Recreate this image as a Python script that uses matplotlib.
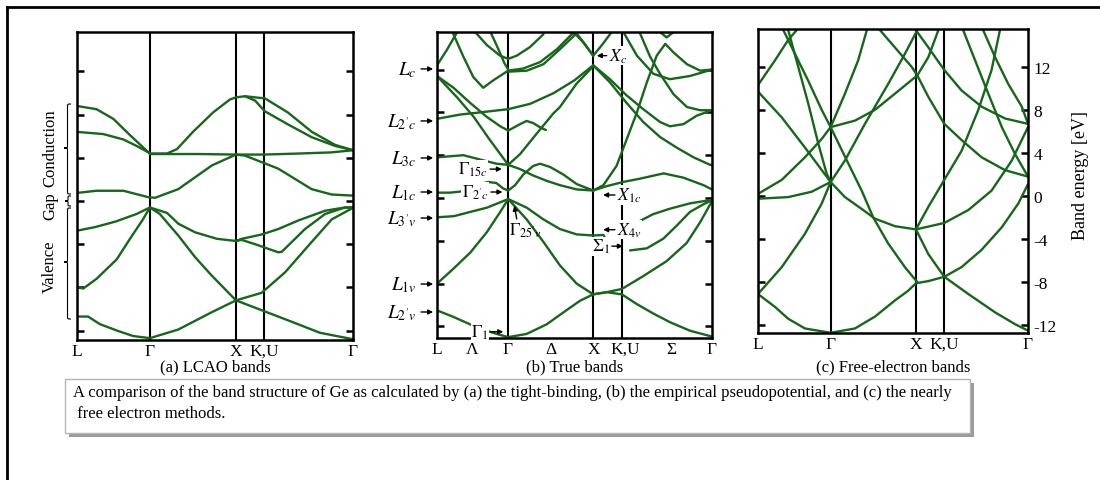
import matplotlib.pyplot as plt
from matplotlib.lines import Line2D
from matplotlib.patches import Rectangle, PathPatch
from matplotlib.path import Path

plt.rcParams['font.family'] = ['Liberation Serif', 'DejaVu Serif']
plt.rcParams['mathtext.fontset'] = 'stix'

W, H = 1100, 481
GREEN = '#17671b'

# energy axis (eV)
energy_ticks = [-12, -8, -4, 0, 4, 8, 12]
energy_labels = ['-12', '-8', '-4', '0', '4', '8', '12']

# k-path: positions of the symmetry points as a fraction of each panel's path
path_labels = ['L', 'Γ', 'X', 'K,U', 'Γ']
lcao_sym = [0, 0.264, 0.576, 0.678, 1]
true_sym = [0, 0.258, 0.567, 0.673, 1]
free_sym = [0, 0.270, 0.585, 0.689, 1]
true_labels = ['L', 'Λ', 'Γ', 'Δ', 'X', 'K,U', 'Σ', 'Γ']
true_label_pos = [0, 0.127, 0.258, 0.415, 0.572, 0.685, 0.853, 1]

# (a) LCAO bands: (k, E)
lcao_bands = [
    ([0, .040, .083, .145, .203, .264, .367, .488, .576, .678, .790, .880, 1],
     [-10.7, -10.7, -11.4, -12.0, -12.5, -12.7, -11.9, -10.3, -9.2, -10.2, -11.3, -12.2, -12.8]),
    ([0, .023, .071, .144, .192, .239, .264, .300, .367, .428, .488, .576, .669, .754, .850, .923, .995, 1],
     [-8.0, -8.1, -7.2, -5.4, -3.5, -1.7, -0.6, -1.2, -3.2, -5.2, -6.9, -9.2, -8.5, -6.6, -3.8, -1.7, -0.7, -0.6]),
    ([0, .068, .140, .216, .264, .326, .367, .428, .507, .576, .597, .669, .729, .802, .899, .971, 1],
     [-2.75, -2.4, -1.9, -1.2, -0.6, -1.1, -2.1, -2.9, -3.5, -3.7, -3.5, -3.1, -2.6, -1.8, -0.9, -0.6, -0.6]),
    ([.576, .597, .657, .729, .742, .778, .826, .899, .971, 1],
     [-3.7, -3.6, -4.1, -4.75, -4.7, -3.8, -2.6, -1.2, -0.6, -0.6]),
    ([0, .071, .168, .259, .283, .367, .489, .576, .609, .729, .850, .923, 1],
     [0.75, 0.95, 0.95, 0.35, 0.3, 1.1, 3.3, 4.3, 4.2, 3.0, 1.1, 0.6, 0.5]),
    ([.264, .446, .576, .678, .808, .920, 1],
     [4.35, 4.35, 4.3, 4.3, 4.4, 4.5, 4.7]),
    ([0, .071, .132, .192, .259, .264],
     [8.8, 8.5, 7.6, 6.1, 4.5, 4.4]),
    ([0, .095, .168, .216, .259, .264],
     [6.4, 6.2, 5.7, 5.1, 4.5, 4.4]),
    ([.264, .326, .362, .420, .493, .554, .576, .609, .645, .681, .764, .851, .935, 1],
     [4.4, 4.4, 4.8, 6.4, 8.2, 9.4, 9.6, 9.7, 9.6, 9.5, 8.2, 6.4, 5.2, 4.7]),
    ([.609, .645, .681, .764, .851, .935, 1],
     [9.7, 9.3, 8.3, 7.1, 5.9, 5.1, 4.7]),
]

# (b) true (pseudopotential) bands
true_bands = [
    ([0, .059, .120, .181, .217, .259, .326, .399, .459, .520, .568, .617, .672, .726, .787, .847, .920, .993, 1],
     [-10.5, -11.1, -11.8, -12.4, -12.7, -13.0, -12.7, -11.8, -10.7, -9.6, -9.0, -8.8, -9.0, -9.9, -10.8, -11.6, -12.4, -12.9, -13.0]),
    ([0, .060, .121, .181, .230, .259, .326, .387, .447, .508, .568, .617, .672, .750, .835, .908, .956, 1],
     [-8.0, -6.6, -5.1, -3.2, -1.3, -0.1, -2.0, -4.1, -6.3, -8.0, -9.0, -8.8, -8.5, -7.3, -5.9, -4.2, -2.3, -0.3]),
    ([0, .061, .121, .182, .230, .259, .326, .387, .447, .508, .568, .605, .610],
     [-1.8, -1.7, -1.3, -0.9, -0.4, -0.1, -0.9, -2.0, -2.9, -3.4, -3.5, -3.45, -3.7]),
    ([.726, .787, .847, .920, .993, 1],
     [-2.3, -1.5, -1.0, -0.5, -0.2, -0.2]),
    ([.702, .763, .823, .871, .920, .968, 1],
     [-4.9, -4.7, -3.8, -2.6, -1.3, -0.6, -0.2]),
    ([0, .048, .084, .120, .157, .186, .216, .240, .259, .284, .314, .350, .375, .411, .459, .508, .568],
     [0.5, 0.5, 0.6, 0.8, 1.3, 1.5, 1.4, 0.9, 0.7, 1.2, 2.2, 3.0, 3.2, 2.9, 2.2, 1.3, 0.7]),
    ([.259, .302, .350, .399, .447, .508, .568],
     [3.1, 2.7, 2.1, 1.6, 1.2, 0.8, 0.7]),
    ([.568, .616, .677, .737, .824, .896, .969, 1],
     [0.7, 1.1, 1.5, 1.8, 2.3, 1.9, 1.2, 0.8]),
    ([0, .096, .156, .217, .259],
     [3.8, 4.0, 3.6, 3.2, 3.1]),
    ([0, .035, .078],
     [12.4, 13.8, 15.7]),
    ([0, .073, .133, .193, .259],
     [11.4, 9.4, 7.6, 5.4, 3.1]),
    ([0, .060, .120, .180, .230, .259],
     [11.4, 10.3, 8.9, 7.6, 6.7, 6.3]),
    ([0, .085, .157, .259, .339, .424, .500, .568],
     [7.4, 7.8, 8.0, 8.3, 8.8, 9.8, 11.0, 12.4]),
    ([.259, .302, .362, .423, .447, .508, .568],
     [3.1, 4.1, 6.0, 7.9, 8.5, 10.7, 12.3]),
    ([.259, .302, .326, .350, .375, .396],
     [6.3, 6.9, 7.2, 7.0, 6.6, 6.35]),
    ([.132, .181, .229, .259, .290, .338, .387],
     [15.7, 14.3, 13.3, 13.0, 13.3, 14.1, 15.3]),
    ([.053, .096, .132, .168, .205, .259],
     [15.7, 13.2, 11.3, 10.3, 11.0, 11.9]),
    ([.193, .225, .245, .259],
     [15.6, 13.8, 12.6, 12.0]),
    ([.259, .314, .375, .436, .490, .500, .530, .568],
     [11.9, 12.1, 12.7, 13.9, 15.3, 15.4, 14.6, 13.3]),
    ([.259, .327, .387, .447, .500, .510, .540, .568],
     [11.8, 11.9, 12.5, 13.9, 15.2, 15.3, 14.3, 13.3]),
    ([.568, .629, .689, .750, .811, .872, .933, .993, 1],
     [12.4, 10.8, 8.9, 7.1, 5.7, 4.7, 3.8, 3.1, 3.1]),
    ([.568, .629, .689, .750, .811, .847, .896, .945, 1],
     [12.4, 11.1, 9.6, 8.3, 7.1, 6.7, 6.9, 7.7, 8.2]),
    ([.568, .605, .653, .690, .727, .763, .799, .830, .860, .909, .957, 1],
     [0.7, 1.2, 3.0, 5.5, 8.0, 10.8, 13.3, 14.4, 13.6, 12.5, 11.9, 12.0]),
    ([.678, .727, .787, .847, .920, 1],
     [15.5, 13.3, 11.6, 11.1, 11.4, 12.0]),
    ([.738, .775, .811, .860, .909, .957, 1],
     [15.4, 13.2, 11.6, 9.7, 8.5, 8.2, 8.2]),
    ([.811, .835, .860],
     [15.5, 15.0, 15.5]),
    ([.568, .600, .635],
     [13.3, 14.3, 15.5]),
]

# (c) free-electron bands
free_bands = [
    ([0, .063, .112, .174, .269, .359, .433, .507, .556, .585, .631, .690, .754, .828, .903, .964, 1],
     [-9.1, -10.3, -11.4, -12.3, -12.7, -12.3, -11.2, -9.7, -8.8, -8.1, -7.9, -7.5, -6.6, -5.0, -2.9, -0.7, 1.1]),
    ([.690, .779, .878, .952, 1],
     [-7.5, -9.1, -10.8, -11.9, -12.5]),
    ([0, .088, .174, .236, .269],
     [-9.1, -6.6, -3.5, -0.7, 1.3]),
    ([0, .112, .199, .269],
     [-0.25, -0.1, 0.4, 1.3]),
    ([0, .088, .174, .236, .269],
     [0.2, 1.5, 3.6, 5.3, 6.4]),
    ([0, .088, .174, .269],
     [9.7, 7.3, 4.5, 1.3]),
    ([0, .063, .112, .143],
     [10.3, 12.6, 14.5, 15.4]),
    ([.094, .137, .186, .236, .269],
     [15.4, 13.2, 10.7, 8.0, 6.4]),
    ([.112, .149, .186, .223, .254, .269],
     [15.4, 12.0, 8.6, 4.9, 2.1, 1.3]),
    ([.269, .329, .384, .427, .482, .544, .590],
     [6.4, 3.3, 0.5, -2.0, -4.4, -6.6, -8.0]),
    ([.269, .322, .384, .433, .507, .585, .690, .779, .865, .940, 1],
     [1.3, -0.1, -1.2, -2.1, -2.8, -3.1, -2.5, -1.3, 0.5, 3.3, 6.4]),
    ([.585, .631, .690, .754, .816, .865, .896],
     [-3.1, -1.0, 1.5, 4.2, 8.0, 11.7, 15.4]),
    ([.585, .631, .690],
     [-3.1, -5.4, -7.5]),
    ([.269, .322, .396, .482, .544, .590],
     [1.3, 3.3, 6.7, 10.4, 13.2, 15.4]),
    ([.269, .359, .433, .507, .590, .631, .668],
     [6.4, 7.0, 8.0, 9.5, 11.2, 12.9, 15.4]),
    ([.452, .507, .569, .590, .631, .690, .754, .828, .915, 1],
     [15.4, 13.8, 12.0, 11.2, 9.2, 6.7, 5.2, 3.6, 2.4, 1.8]),
    ([.269, .322, .371, .403],
     [6.4, 9.5, 12.6, 15.4]),
    ([.585, .631, .690, .754, .828, .915, 1],
     [15.4, 13.8, 11.7, 9.8, 8.3, 7.2, 6.7]),
    ([.760, .804, .853, .903, .952, 1],
     [15.4, 12.6, 9.5, 6.4, 3.9, 1.8]),
    ([.834, .878, .927, .977, 1],
     [15.4, 12.9, 10.4, 8.3, 6.7]),
]

# labels of the true-band levels: (text, E)
l_levels = [(r'$L_c$', 12.06), (r"$L_{2'c}$", 7.2), (r'$L_{3c}$', 3.74), (r'$L_{1c}$', 0.56),
            (r"$L_{3'v}$", -1.87), (r'$L_{1v}$', -8.04), (r"$L_{2'v}$", -10.65)]

caption = ('A comparison of the band structure of Ge as calculated by (a) the tight-binding, '
           '(b) the empirical pseudopotential, and (c) the nearly')
caption2 = ' free electron methods.'


def fig_xy(x, y):
    return x / W, 1 - y / H


def setup(ax, sym, labels, label_pos, ylim):
    ax.set_xlim(0, 1)
    ax.set_ylim(*ylim)
    for s in sym[1:-1]:
        ax.axvline(s, color='black', lw=1.5, zorder=1)
    for sp in ax.spines.values():
        sp.set_linewidth(1.8)
    ax.set_yticks(energy_ticks)
    ax.set_yticklabels(energy_labels)
    ax.tick_params(axis='y', direction='in', length=5, width=1.8, left=True, right=True,
                   labelleft=False, labelright=False)
    ax.set_xticks(label_pos)
    ax.set_xticklabels(labels, fontsize=12.5)
    ax.tick_params(axis='x', length=0, pad=2)


def draw_bands(ax, bands):
    for k, e in bands:
        ax.plot(k, e, color=GREEN, lw=1.7, solid_joinstyle='round', solid_capstyle='round', zorder=2)


def brace(fig, x, y_top, y_bot, y_tip, depth=7, r=3):
    xm = x - depth / 2
    xt = x - depth
    verts = [(x, y_top), (xm, y_top), (xm, y_top), (xm, y_top + r),
             (xm, y_tip - r), (xm, y_tip), (xm, y_tip), (xt, y_tip),
             (xm, y_tip), (xm, y_tip), (xm, y_tip + r),
             (xm, y_bot - r), (xm, y_bot), (xm, y_bot), (x, y_bot)]
    codes = [Path.MOVETO, Path.CURVE4, Path.CURVE4, Path.CURVE4,
             Path.LINETO, Path.CURVE4, Path.CURVE4, Path.CURVE4,
             Path.CURVE4, Path.CURVE4, Path.CURVE4,
             Path.LINETO, Path.CURVE4, Path.CURVE4, Path.CURVE4]
    verts = [fig_xy(vx, vy) for vx, vy in verts]
    fig.add_artist(PathPatch(Path(verts, codes), transform=fig.transFigure,
                             fill=False, lw=0.8, color='black'))


fig = plt.figure(figsize=(W / 100, H / 100), dpi=100)

ax_a = fig.add_axes([77 / W, 1 - 341 / H, 276 / W, 308 / H])
ax_b = fig.add_axes([437 / W, 1 - 339 / H, 275 / W, 306 / H])
ax_c = fig.add_axes([758 / W, 1 - 334 / H, 270 / W, 304 / H])

setup(ax_a, lcao_sym, path_labels, lcao_sym, (-12.87, 15.65))
setup(ax_b, true_sym, true_labels, true_label_pos, (-13.08, 15.51))
setup(ax_c, free_sym, path_labels, free_sym, (-12.72, 15.51))

draw_bands(ax_a, lcao_bands)
draw_bands(ax_b, true_bands)
draw_bands(ax_c, free_bands)

# right energy axis of panel (c)
ax_c.tick_params(axis='y', labelright=True, labelsize=12.5, pad=4)
ax_c.set_ylabel('Band energy [eV]', fontsize=13)
ax_c.yaxis.set_label_position('right')
ax_c.yaxis.set_label_coords(1.163, 0.523)

# level labels in panel (b)
arrow = dict(arrowstyle='-|>', color='black', lw=1.0, mutation_scale=7, shrinkA=0, shrinkB=0)
wbox = dict(facecolor='white', edgecolor='none', pad=0.3)
for txt, e in l_levels:
    ax_b.annotate('', xy=(-0.014, e), xytext=(-0.058, e), arrowprops=arrow, annotation_clip=False)
    ax_b.text(-0.075, e, txt, ha='right', va='center', fontsize=14, clip_on=False)

inner = [
    (r'$\Gamma_{15c}$', (0.236, 2.7), (0.193, 2.7), 'right'),
    (r"$\Gamma_{2'c}$", (0.238, 0.56), (0.196, 0.56), 'right'),
    (r'$\Gamma_{1}$', (0.241, -12.5), (0.195, -12.5), 'right'),
    (r'$X_{c}$', (0.581, 13.3), (0.617, 13.3), 'left'),
    (r'$X_{1c}$', (0.604, 0.28), (0.647, 0.28), 'left'),
    (r'$X_{4v}$', (0.604, -2.96), (0.647, -2.96), 'left'),
    (r'$\Sigma_{1}$', (0.676, -4.5), (0.636, -4.5), 'right'),
]
for txt, tip, tail, side in inner:
    ax_b.annotate('', xy=tip, xytext=tail, arrowprops=arrow, zorder=5)
    off = -0.008 if side == 'right' else 0.008
    ax_b.text(tail[0] + off, tail[1], txt, ha=side, va='center', fontsize=12.5,
              bbox=wbox, zorder=4)
ax_b.annotate('', xy=(0.281, -0.72), xytext=(0.290, -1.96), arrowprops=arrow, zorder=5)
ax_b.text(0.262, -3.0, r"$\Gamma_{25'v}$", ha='left', va='center', fontsize=12.5, zorder=4)

# panel captions
for x, txt in [(215, '(a) LCAO bands'), (575, '(b) True bands'), (893, '(c) Free-electron bands')]:
    fig.text(*fig_xy(x, 367), txt, ha='center', va='center', fontsize=12)

# valence / gap / conduction braces at panel (a)
brace(fig, 71, 105, 195, 149)
brace(fig, 71, 197, 207, 202, depth=6, r=2)
brace(fig, 71, 209, 320, 263)
for y, txt in [(148, 'Conduction'), (206, 'Gap'), (267, 'Valence')]:
    fig.text(*fig_xy(50, y), txt, rotation=90, ha='center', va='center', fontsize=12)

# outer frame
fig.add_artist(Line2D([7 / W, 1], [1 - 8 / H] * 2, transform=fig.transFigure, color='black', lw=2))
fig.add_artist(Line2D([7 / W] * 2, [0, 1 - 8 / H], transform=fig.transFigure, color='black', lw=2))

# caption box with shadow
bx, by = fig_xy(65, 434)
fig.add_artist(Rectangle((bx + 4 / W, by - 4 / H), 905 / W, 54 / H, transform=fig.transFigure,
                         facecolor='#9b9b9b', edgecolor='none'))
fig.add_artist(Rectangle((bx, by), 905 / W, 54 / H, transform=fig.transFigure,
                         facecolor='white', edgecolor='#b4b4b4', lw=1))
fig.text(*fig_xy(73, 393), caption, ha='left', va='center', fontsize=12)
fig.text(*fig_xy(73, 414), caption2, ha='left', va='center', fontsize=12)

fig.savefig('out.png', dpi=100)
